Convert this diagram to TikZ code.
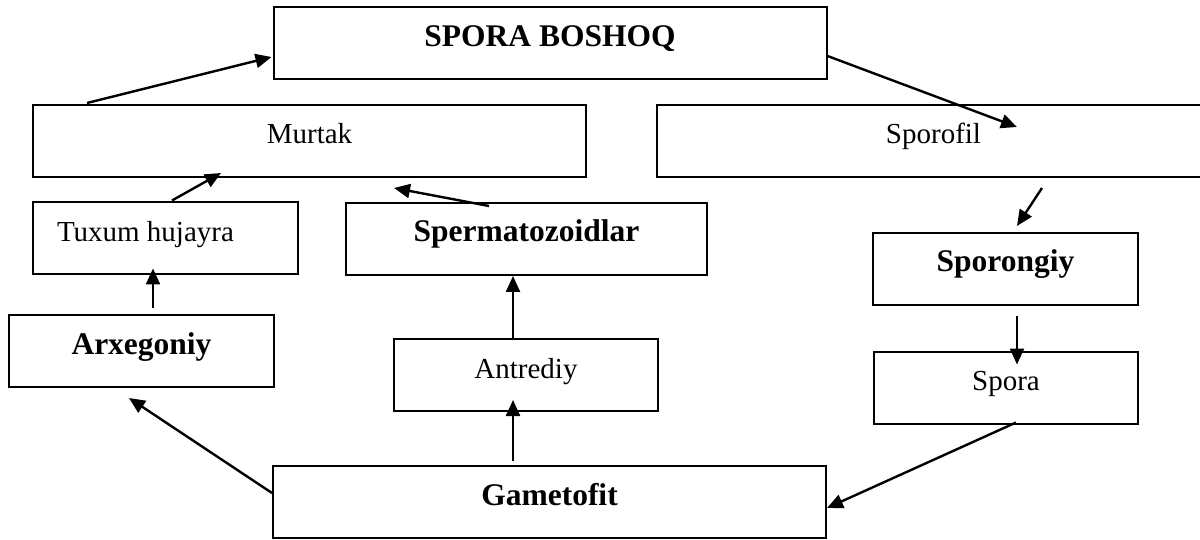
\documentclass[tikz,border=0pt]{standalone}
\usepackage{fontspec}
\setmainfont{Liberation Serif}
\usetikzlibrary{arrows.meta, calc}

\begin{document}
\begin{tikzpicture}[x=1pt, y=-1pt,
    box/.style = {draw, line width=2pt, inner sep=0pt, minimum height=72pt,
                  text height=20pt, text depth=14pt},
    wide/.style = {box, minimum width=553pt},
    small/.style = {box, minimum width=265pt},
    reg/.style = {font=\fontsize{29}{34}\selectfont},
    bld/.style = {font=\fontsize{31.5}{36}\selectfont\bfseries},
    arr/.style = {line width=2.4pt, -{Triangle[length=16pt, width=14pt]}}]
    \useasboundingbox (0,0) rectangle (1200,540);

    % upper row
    \node[wide, bld] at (550, 43.5) (sporaboshoq) {SPORA BOSHOQ};
    \node[wide, reg] at (309.5, 141) (murtak) {Murtak};
    \node[wide, reg] at (933.5, 141) (sporofil) {Sporofil};

    % middle
    \node[small, reg, text width=217pt, inner xsep=24pt, align=flush left] at (165.5, 238.5) (tuxum) {Tuxum hujayra};
    \node[box, bld, minimum width=361pt] at (526.5, 239) (sperma) {Spermatozoidlar};
    \node[small, bld] at (1005.5, 269) (sporongiy) {Sporongiy};
    \node[small, bld] at (141.5, 351) (arxegoniy) {Arxegoniy};
    \node[small, reg, minimum width=264pt] at (526, 375) (antrediy) {Antrediy};
    \node[small, reg, minimum width=264pt] at (1006, 387.5) (spora) {Spora};

    % bottom
    \node[wide, bld] at (549.5, 502) (gametofit) {Gametofit};

    % sporofit side
    \draw[arr] ($(sporaboshoq.east)+(0,12.5)$) -- ($(sporofil.west)+(361,-14)$);
    \draw[arr] ($(sporofil.south west)+(386,10)$) -- ($(sporongiy.north west)+(145,-6)$);
    \draw[arr] ($(sporongiy.south west)+(145,10)$) -- ($(spora.north west)+(144,14)$);
    \draw[arr] ($(spora.south west)+(143,-2)$) -- ($(gametofit.east)+(0,6)$);

    % gametofit side
    \draw[arr] ($(gametofit.west)+(0,-9)$) -- ($(arxegoniy.south west)+(121,10)$);
    \draw[arr] ($(gametofit.north west)+(241,-4)$) -- ($(antrediy.south west)+(120,-12)$);
    \draw[arr] ($(antrediy.north west)+(120,2)$) -- ($(antrediy.north west |- sperma.south)+(120,0)$);
    \draw[arr] ($(arxegoniy.north west)+(145,-6)$) -- ($(tuxum.south west)+(121,-7)$);
    \draw[arr] ($(tuxum.north west)+(140,-1)$) -- ($(murtak.south west)+(189,-5)$);
    \draw[arr] ($(sperma.north west)+(144,4)$) -- ($(murtak.south west)+(362,10)$);
    \draw[arr] ($(murtak.north west)+(55,-1)$) -- ($(sporaboshoq.west)+(-1,13.5)$);
\end{tikzpicture}
\end{document}
